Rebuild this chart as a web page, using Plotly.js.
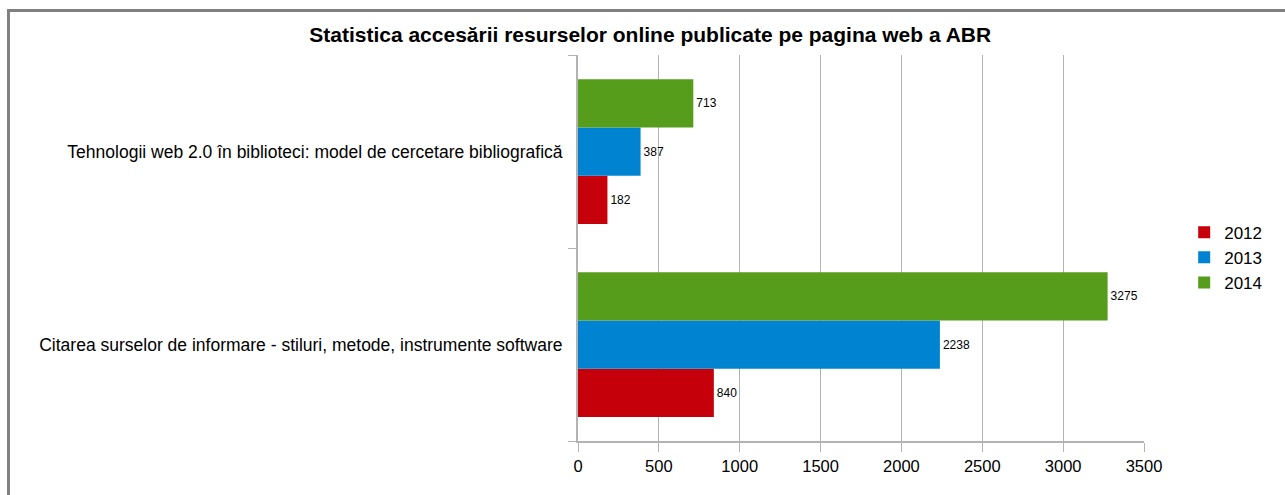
<!DOCTYPE html>
<html>
<head>
<meta charset="utf-8">
<script src="https://cdn.plot.ly/plotly-3.0.1.min.js"></script>
<style>
html,body{margin:0;padding:0;background:#fff;}
#chart{width:1285px;height:495px;}
#frame{position:absolute;left:7px;top:9px;width:1290px;height:500px;border-left:3px solid #808080;border-top:3px solid #808080;pointer-events:none;}
</style>
</head>
<body>
<div id="chart"></div>
<div id="frame"></div>
<script>
const categories = [
  "Citarea surselor de informare - stiluri, metode, instrumente software",
  "Tehnologii web 2.0 în biblioteci: model de cercetare bibliografică"
];
const seriesNames = ["2012", "2013", "2014"];
const values2012 = [840, 182];
const values2013 = [2238, 387];
const values2014 = [3275, 713];
const colors = ["#c5000b", "#0084d1", "#579d1c"];
const xTicks = [0, 500, 1000, 1500, 2000, 2500, 3000, 3500];

const allValues = [values2012, values2013, values2014];
const traces = allValues.map((v, i) => ({
  type: "bar",
  orientation: "h",
  name: seriesNames[i],
  y: categories,
  x: v,
  text: v.map(String),
  textposition: "outside",
  cliponaxis: false,
  textfont: {family: "Liberation Sans, Arial, sans-serif", size: 12, color: "#000"},
  marker: {color: colors[i], line: {width: 0}},
  hoverinfo: "x+name"
}));

const layout = {
  width: 1285,
  height: 495,
  margin: {l: 578, r: 141, t: 55, b: 54},
  paper_bgcolor: "#fff",
  plot_bgcolor: "#fff",
  font: {family: "Liberation Sans, Arial, sans-serif", size: 16, color: "#000"},
  title: {
    text: "<b>Statistica accesării resurselor online publicate pe pagina web a ABR</b>",
    font: {family: "Liberation Sans, Arial, sans-serif", size: 21, color: "#000"},
    x: 0.506, xref: "container", xanchor: "center",
    y: 1 - 35/495, yref: "container", yanchor: "middle"
  },
  barmode: "group",
  bargap: 0.25,
  bargroupgap: 0,
  showlegend: true,
  legend: {
    traceorder: "normal",
    x: 1.071, xanchor: "left",
    y: 0.475, yanchor: "middle",
    font: {size: 17},
    itemwidth: 30,
    tracegroupgap: 0
  },
  xaxis: {
    range: [0, 3500],
    tickvals: xTicks,
    ticktext: xTicks.map(String),
    showgrid: true,
    gridcolor: "#b3b3b3",
    gridwidth: 1,
    zeroline: false,
    showline: true,
    linecolor: "#b3b3b3",
    linewidth: 2,
    ticks: "outside",
    ticklen: 9,
    tickcolor: "#b3b3b3",
    tickwidth: 1,
    tickfont: {size: 16.5}
  },
  yaxis: {
    type: "category",
    categoryarray: categories,
    showgrid: false,
    zeroline: false,
    showline: true,
    linecolor: "#b3b3b3",
    linewidth: 2,
    ticks: "outside",
    tickson: "boundaries",
    ticklen: 8,
    tickcolor: "#b3b3b3",
    tickwidth: 1,
    ticklabelstandoff: 10,
    tickfont: {size: 17.5}
  }
};

Plotly.newPlot("chart", traces, layout, {displayModeBar: false, staticPlot: true});
</script>
</body>
</html>
